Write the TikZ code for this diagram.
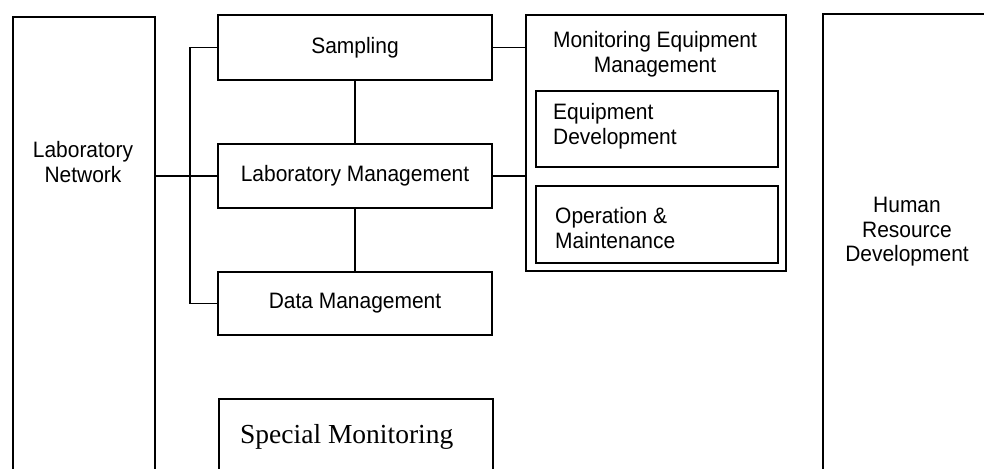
\documentclass[tikz,border=0pt]{standalone}
\usepackage{fontspec}
\setmainfont{Liberation Sans}[FakeStretch=0.94]
\newfontfamily\serifface{Liberation Serif}
\begin{document}
\begin{tikzpicture}[x=1pt,y=-1pt,
  box/.style={draw, line width=2.2pt, rectangle, inner sep=0pt},
  txt/.style={font=\fontsize{22.3}{24.5}\selectfont, inner sep=0pt},
  link/.style={draw, line width=1.6pt}]
\useasboundingbox (0,0) rectangle (984,468);
\clip (0,0) rectangle (984,468);

% left column
\node[box, anchor=north west, minimum width=142pt, minimum height=470pt] (labnet) at (12,16) {};
\node[txt, align=center] (labnettext) at (83,162) {Laboratory\\Network};

% middle column
\node[box, txt, minimum width=274pt, minimum height=65pt] (sampling) at (355,47.5) {Sampling};
\node[box, txt, minimum width=274pt, minimum height=64pt] (labmgmt) at (355,176) {Laboratory Management};
\node[box, txt, minimum width=274pt, minimum height=63pt] (datamgmt) at (355,303.5) {Data Management};
\node[box, anchor=north west, minimum width=274pt, minimum height=90pt] (special) at (218,398) {};
\node[anchor=base west, inner sep=0pt, font=\serifface\fontsize{27.5}{30}\selectfont] (specialtext) at (240,443) {Special Monitoring};

% equipment group
\node[box, anchor=north west, minimum width=260pt, minimum height=256pt] (mem) at (525,14) {};
\node[txt, align=center] (memtext) at (655,54) {Monitoring Equipment\\Management};
\node[box, anchor=north west, minimum width=242pt, minimum height=76pt] (eqdev) at (535,90) {};
\node[txt, align=left, anchor=west] (eqdevtext) at (553,126) {Equipment\\Development};
\node[box, anchor=north west, minimum width=242pt, minimum height=77pt] (opmaint) at (535,185) {};
\node[txt, align=left, anchor=west] (opmainttext) at (555,228) {Operation \&\\Maintenance};

% right column
\node[box, anchor=north west, minimum width=190pt, minimum height=470pt] (hrd) at (822,13) {};
\node[txt, align=center] (hrdtext) at (907,232) {Human\\Resource\\Development};

% connectors
\coordinate (bus) at (190,0);
\draw[link] (sampling.west) -| (bus |- datamgmt.west) -- (datamgmt.west);
\draw[link] (labnet.east |- labmgmt.west) -- (labmgmt.west);
\draw[link] (sampling.south) -- (labmgmt.north);
\draw[link] (labmgmt.south) -- (datamgmt.north);
\draw[link] (sampling.east) -- (sampling.east -| mem.west);
\draw[link] (labmgmt.east) -- (labmgmt.east -| mem.west);
\end{tikzpicture}
\end{document}
